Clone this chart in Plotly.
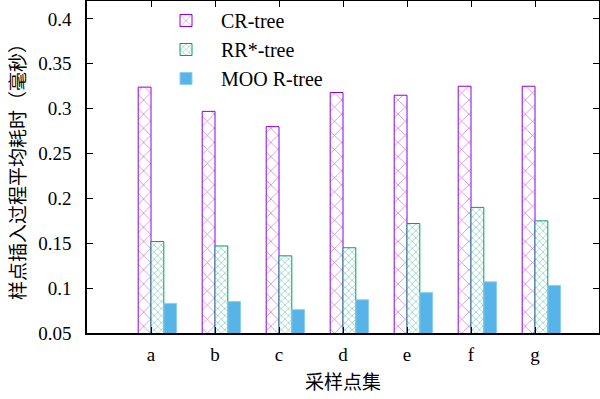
import plotly.graph_objects as go

categories = ["a", "b", "c", "d", "e", "f", "g"]
cr_tree = [0.324, 0.297, 0.280, 0.318, 0.315, 0.325, 0.325]
rr_tree = [0.152, 0.147, 0.136, 0.145, 0.172, 0.190, 0.175]
moo_tree = [0.083, 0.085, 0.076, 0.087, 0.095, 0.107, 0.103]
series_names = ["CR-tree", "RR*-tree", "MOO R-tree"]
y_ticks = [0.05, 0.1, 0.15, 0.2, 0.25, 0.3, 0.35, 0.4]
y_tick_text = ["0.05", "0.1", "0.15", "0.2", "0.25", "0.3", "0.35", "0.4"]

xpos = list(range(len(categories)))
FONT = "Liberation Serif, 'Noto Sans CJK SC', serif"
CJK = "'Noto Sans CJK SC', sans-serif"

fig = go.Figure()
fig.add_trace(go.Bar(
    x=xpos, y=cr_tree, name=series_names[0], offset=-0.2, width=0.2,
    legendgroup="g1",
    marker=dict(color="white", line=dict(color="#9400D3", width=1),
                pattern=dict(shape="x", fgcolor="#9400D3", bgcolor="white", size=10, solidity=0.15)),
))
fig.add_trace(go.Bar(
    x=xpos, y=rr_tree, name=series_names[1], offset=0.0, width=0.2,
    legendgroup="g2",
    marker=dict(color="white", line=dict(color="#009E73", width=1),
                pattern=dict(shape="x", fgcolor="#009E73", bgcolor="white", size=5, solidity=0.25)),
))
fig.add_trace(go.Bar(
    x=xpos, y=moo_tree, name=series_names[2], offset=0.2, width=0.2,
    legendgroup="g3",
    marker=dict(color="#56B4E9", line=dict(color="#8fcdf0", width=1)),
))

fig.update_layout(
    width=600, height=399,
    margin=dict(l=87, r=1, t=1, b=66),
    barmode="overlay",
    plot_bgcolor="white", paper_bgcolor="white",
    font=dict(family=FONT, size=19, color="black"),
    legend=dict(x=(151 - 87) / 512, y=1.0, xanchor="left", yanchor="top",
                itemwidth=60, tracegroupgap=5, bgcolor="rgba(0,0,0,0)",
                font=dict(family=FONT, size=20), traceorder="normal"),
    showlegend=True,
)
fig.update_xaxes(
    range=[-1, 7], tickvals=xpos, ticktext=categories,
    showline=True, linecolor="black", linewidth=1.5, mirror="ticks",
    ticks="inside", ticklen=6, tickcolor="black", showgrid=False, zeroline=False,
    ticklabelstandoff=3, automargin=False,
    title=dict(text="采样点集", font=dict(family=CJK, size=19), standoff=12),
)
fig.update_yaxes(
    range=[0.05, 0.42], tickvals=y_ticks, ticktext=y_tick_text,
    showline=True, linecolor="black", linewidth=1.5, mirror="ticks",
    ticks="inside", ticklen=6, tickcolor="black", showgrid=False, zeroline=False,
    ticklabelstandoff=10, automargin=False,
    title=dict(text="样点插入过程平均耗时（毫秒）", font=dict(family=CJK, size=19), standoff=8),
)

fig.write_html("out.html", config={"displayModeBar": False},
               post_script="document.body.style.margin='0';")
